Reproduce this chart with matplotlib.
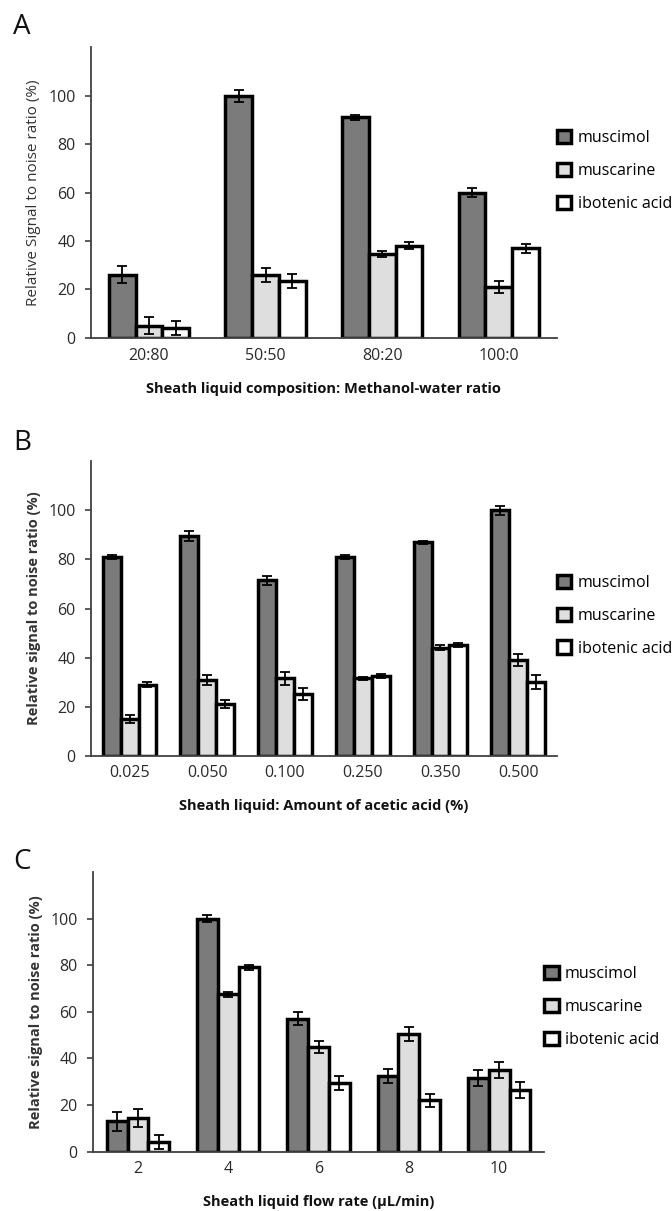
import numpy as np
import matplotlib
matplotlib.use("Agg")
from matplotlib import pyplot as plt

plt.rcParams['font.family'] = ['Open Sans', 'DejaVu Sans']

series = ['muscimol', 'muscarine', 'ibotenic acid']
colors = ['#7b7b7b', '#dedede', '#ffffff']

# panel A
a_cats = ['20:80', '50:50', '80:20', '100:0']
a_muscimol = [26, 100, 91, 60]
a_muscimol_err = [3.5, 2.5, 1, 2]
a_muscarine = [5, 26, 34.5, 21]
a_muscarine_err = [3.5, 3, 1.2, 2.3]
a_ibotenic = [4, 23.5, 38, 37]
a_ibotenic_err = [3, 3, 1.5, 1.8]

# panel B
b_cats = ['0.025', '0.050', '0.100', '0.250', '0.350', '0.500']
b_muscimol = [81, 89.5, 71.5, 81, 87, 100]
b_muscimol_err = [0.8, 2, 1.8, 0.8, 0.7, 2]
b_muscarine = [15, 31, 31.5, 31.5, 44, 39]
b_muscarine_err = [1.5, 2, 2.5, 0.7, 1, 2.3]
b_ibotenic = [29, 21, 25, 32.5, 45, 30]
b_ibotenic_err = [1, 1.5, 2.5, 1, 0.8, 3]

# panel C
c_cats = ['2', '4', '6', '8', '10']
c_muscimol = [13, 100, 57, 32.5, 31.5]
c_muscimol_err = [4, 1.5, 2.8, 3, 3.5]
c_muscarine = [14.5, 67.5, 45, 50.5, 35]
c_muscarine_err = [3.8, 1, 2.5, 3, 3.5]
c_ibotenic = [4, 79, 29.5, 22, 26.5]
c_ibotenic_err = [3, 1, 3, 2.8, 3.5]

panels = [
    ('A', a_cats, [a_muscimol, a_muscarine, a_ibotenic],
     [a_muscimol_err, a_muscarine_err, a_ibotenic_err],
     'Relative Signal to noise ratio (%)', 'normal',
     'Sheath liquid composition: Methanol-water ratio',
     [0.135, 0.721, 0.694, 0.240], 0.574, 0.978),
    ('B', b_cats, [b_muscimol, b_muscarine, b_ibotenic],
     [b_muscimol_err, b_muscarine_err, b_ibotenic_err],
     'Relative signal to noise ratio (%)', 'bold',
     'Sheath liquid: Amount of acetic acid (%)',
     [0.135, 0.376, 0.694, 0.243], 0.476, 0.634),
    ('C', c_cats, [c_muscimol, c_muscarine, c_ibotenic],
     [c_muscimol_err, c_muscarine_err, c_ibotenic_err],
     'Relative signal to noise ratio (%)', 'bold',
     'Sheath liquid flow rate (\u00b5L/min)',
     [0.138, 0.049, 0.672, 0.231], 0.518, 0.288),
]

fig = plt.figure(figsize=(6.72, 12.11), dpi=100)

for letter, cats, vals, errs, ylab, yweight, xlab, rect, leg_y, let_y in panels:
    ax = fig.add_axes(rect)
    x = np.arange(len(cats))
    w = 0.23
    for i in range(3):
        ax.bar(x + (i - 1) * w, vals[i], w, yerr=errs[i], color=colors[i],
               edgecolor='black', linewidth=2.5, label=series[i],
               error_kw=dict(ecolor='black', elinewidth=1.3, capsize=3.5, capthick=1.3),
               zorder=2)
    ax.set_xlim(-0.5, len(cats) - 0.5)
    ax.set_ylim(0, 120)
    ax.set_yticks([0, 20, 40, 60, 80, 100])
    ax.set_xticks(x)
    ax.set_xticklabels(cats)
    ax.tick_params(axis='x', length=0, labelsize=11.5, pad=7, colors='#2a2a2a')
    ax.tick_params(axis='y', length=4, width=1.2, labelsize=11.5, pad=7,
                   colors='#404040', labelcolor='#2a2a2a')
    for s in ['top', 'right']:
        ax.spines[s].set_visible(False)
    for s in ['left', 'bottom']:
        ax.spines[s].set_color('#404040')
        ax.spines[s].set_linewidth(1.3)
    ax.set_ylabel(ylab, fontsize=11 if yweight == 'normal' else 10.5,
                  fontweight=yweight, color='#333333', labelpad=5)
    ax.set_xlabel(xlab, fontsize=10.5, fontweight='bold', color='#111111', labelpad=13)
    ax.legend(loc='center left', bbox_to_anchor=(1.0, leg_y), frameon=False,
              handlelength=0.9, handleheight=0.9, handletextpad=0.4,
              labelspacing=1.05, fontsize=11.5, borderaxespad=0.0,
              borderpad=0.0)
    fig.text(0.02, let_y, letter, fontsize=20, color='#111111', va='center')

fig.savefig('out.png', dpi=100)
